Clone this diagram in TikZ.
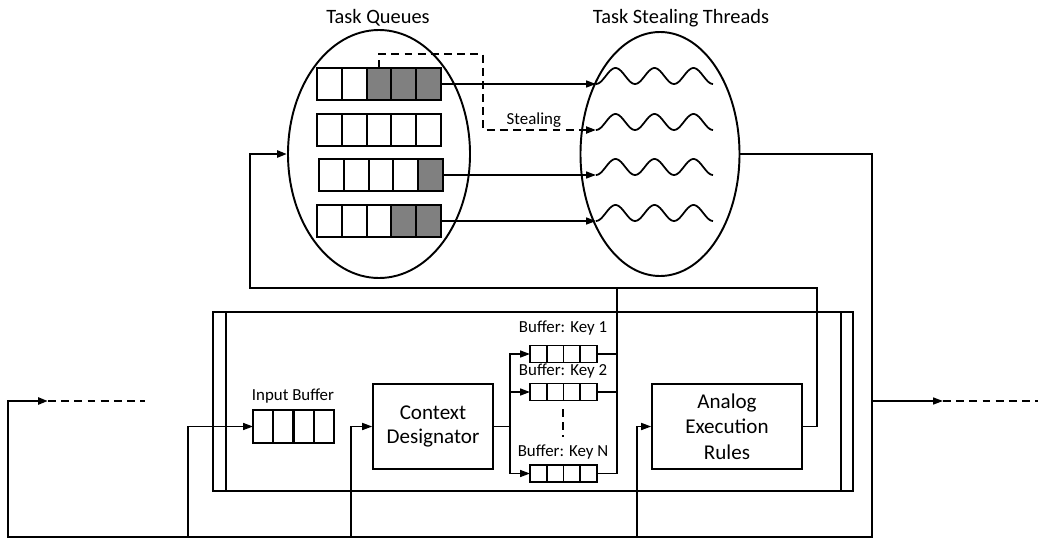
\documentclass[tikz,border=0pt]{standalone}
\usepackage{fontspec}
\setmainfont{Carlito}
\usepackage{xcolor}
\usetikzlibrary{positioning,arrows.meta,shapes.geometric}
\definecolor{gris}{HTML}{808080}
\newcommand{\px}{0.02cm}

\begin{document}
\begin{tikzpicture}[x=0.02cm, y=-0.02cm, line width=0.9pt,
  titulo/.style={font=\fontsize{11.6}{14}\selectfont},
  etiq/.style={font=\fontsize{9.6}{11}\selectfont, inner sep=1pt},
  caja/.style={draw, align=center, inner sep=0, font=\fontsize{12}{14}\selectfont},
  celda/.style={draw, line width=1.2pt, minimum width=24.8*\px, minimum height=32*\px, inner sep=0, outer sep=0},
  celdaib/.style={celda, minimum width=20.25*\px, minimum height=33*\px},
  celdak/.style={celda, line width=1pt, minimum width=16.75*\px, minimum height=17*\px},
  flecha/.style={-{Triangle[length=2mm, width=1.4mm]}},
  rayas/.style={dash pattern=on 4.5pt off 3pt},
  grueso/.style={line width=1.5pt},
  ola/.style={line width=1pt}]
  \useasboundingbox (0,0) rectangle (1038,538);

  \node[titulo] (ttq) at (378,18) {Task Queues};
  \node[titulo] (tts) at (681,18) {Task Stealing Threads};
  \node[draw, ellipse, line width=1.1pt, minimum width=182*\px, minimum height=248*\px, inner sep=0] (tq) at (379,154) {};
  \node[draw, ellipse, line width=1.1pt, minimum width=159*\px, minimum height=244*\px, inner sep=0] (ts) at (660,154) {};

  \foreach \r/\yc/\xo/\g in {1/84/317/3, 2/130/317/6, 3/175/319/5, 4/221/317/4}{
    \foreach \c in {1,...,5}{
      \ifnum\c<\g\relax \def\relleno{white}\else\def\relleno{gris}\fi
      \node[celda, fill=\relleno] (q\r-\c) at ({\xo+(\c-0.5)*24.8},\yc) {};
    }
    \coordinate (w\r) at (596,\yc);
    \draw[ola] plot[variable=\t, domain=0:117, samples=70, smooth] ({596+\t},{\yc-8+8*cos(\t*9.2308)});
  }
  \foreach \r in {1,3,4}
    \draw[flecha] (q\r-5.east) -- (w\r);
  \draw[flecha, rayas, line width=1.2pt] (q1-3.north) -- ++(0,-14) -| (483,130) -- node[etiq, above, pos=0.45] (lblst) {Stealing} (w2);

  \node[draw, line width=0.8pt, minimum width=640*\px, minimum height=179*\px, inner sep=0] (marcofondo) at (533,401.5) {};
  \node[draw, line width=1.4pt, minimum width=615*\px, minimum height=179*\px, inner sep=0] (marco) at (533.5,401.5) {};

  \node[etiq] (lblib) at (293,396) {Input Buffer};
  \foreach \c in {1,...,4}
    \node[celdaib] (ib-\c) at ({253+(\c-0.5)*20.25},426.5) {};
  \node[caja, minimum width=120*\px, minimum height=85*\px] (cd) at (433,426.5) {Context\\Designator};
  \node[caja, minimum width=150*\px, minimum height=85*\px, font=\fontsize{12}{14.5}\selectfont] (are) at (727,426.5) {Analog\\Execution\\Rules};

  \foreach \k/\yc/\ly in {1/354/328, 2/392/371, N/473.5/452}{
    \node[etiq] (lblk\k) at (563,\ly) {Buffer: Key \k};
    \foreach \c in {1,...,4}
      \node[celdak] (k\k-\c) at ({530+(\c-0.5)*16.75},\yc) {};
  }
  \draw[rayas] (563,409) -- (563,437);

  \coordinate (rep) at (510,426.5);
  \draw (cd.east) -- (rep);
  \foreach \k in {1,2,N}
    \draw[flecha] (rep) |- (k\k-1.west);
  \coordinate (colec) at (617,288);
  \foreach \k in {1,2,N}
    \draw (k\k-4.east) -| (colec);
  \draw (are.east) -- (817,426.5) |- (colec);
  \draw[flecha, grueso] (colec) -- (250,288) |- (tq.west);

  \coordinate (esq) at (872,537);
  \coordinate (entra) at (48,401);
  \coordinate (entrafin) at (145,401);
  \draw[flecha, grueso] (ts.east) -| (esq) -- (8,537) |- (entra);
  \draw[rayas, grueso] (entra) -- (entrafin);
  \coordinate (deriv) at (872,401);
  \coordinate (sale) at (943,401);
  \coordinate (salefin) at (1038,401);
  \draw[flecha] (deriv) -- (sale);
  \draw[rayas, grueso] (sale) -- (salefin);

  \coordinate (b1) at (188,537);
  \coordinate (b2) at (351,537);
  \coordinate (b3) at (637,537);
  \draw[flecha] (b1) |- (ib-1.west);
  \draw[flecha] (b2) |- (cd.west);
  \draw[flecha] (b3) |- (are.west);
\end{tikzpicture}
\end{document}
